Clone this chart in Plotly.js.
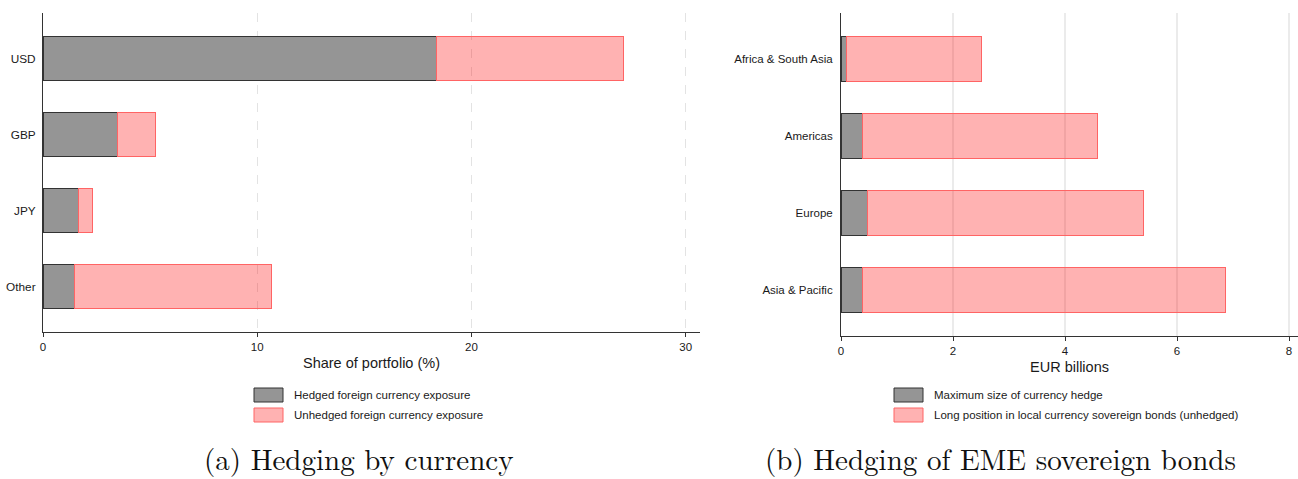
<!DOCTYPE html>
<html>
<head>
<meta charset="utf-8">
<script src="https://cdn.plot.ly/plotly-3.0.1.min.js"></script>
<style>html,body{margin:0;padding:0;background:#fff;}#chart{width:1298px;height:479px;}</style>
</head>
<body>
<div id="chart"></div>
<script>
// Panel (a): hedging by currency (share of portfolio, %)
const currencies = ['USD', 'GBP', 'JPY', 'Other'];
const hedgedCurrency = [18.36, 3.50, 1.65, 1.46];
const unhedgedCurrency = [8.73, 1.73, 0.64, 9.22];

// Panel (b): hedging of EME sovereign bonds (EUR billions)
const regions = ['Africa & South Asia', 'Americas', 'Europe', 'Asia & Pacific'];
const hedgeRegion = [0.105, 0.375, 0.47, 0.39];
const unhedgedRegion = [2.405, 4.205, 4.94, 6.48];

const legendA = ['Hedged foreign currency exposure', 'Unhedged foreign currency exposure'];
const legendB = ['Maximum size of currency hedge', 'Long position in local currency sovereign bonds (unhedged)'];
const xTicksA = [0, 10, 20, 30];
const xTicksB = [0, 2, 4, 6, 8];

const W = 1298, H = 479;
const px = x => x / W;
const py = y => 1 - y / H;

const greyFill = '#959595', greyLine = '#333333';
const pinkFill = 'rgba(255,0,0,0.3)', pinkLine = '#ff6464';
const FONT = 'Liberation Sans, Arial, sans-serif';

const traces = [
  {type: 'bar', orientation: 'h', y: currencies, x: hedgedCurrency, name: legendA[0],
   xaxis: 'x', yaxis: 'y', width: 0.58,
   marker: {color: greyFill, line: {color: greyLine, width: 1}}, hoverinfo: 'x+y'},
  {type: 'bar', orientation: 'h', y: currencies, x: unhedgedCurrency, name: legendA[1],
   xaxis: 'x', yaxis: 'y', width: 0.58,
   marker: {color: pinkFill, line: {color: pinkLine, width: 1}}, hoverinfo: 'x+y'},
  {type: 'bar', orientation: 'h', y: regions, x: hedgeRegion, name: legendB[0],
   xaxis: 'x2', yaxis: 'y2', width: 0.587,
   marker: {color: greyFill, line: {color: greyLine, width: 1}}, hoverinfo: 'x+y'},
  {type: 'bar', orientation: 'h', y: regions, x: unhedgedRegion, name: legendB[1],
   xaxis: 'x2', yaxis: 'y2', width: 0.587,
   marker: {color: pinkFill, line: {color: pinkLine, width: 1}}, hoverinfo: 'x+y'}
];

const axisCommon = {
  showline: true, linecolor: '#333', linewidth: 1, zeroline: false,
  tickfont: {family: FONT, size: 11.5, color: '#1a1a1a'}
};

const layout = {
  width: W, height: H,
  margin: {l: 0, r: 0, t: 0, b: 0},
  paper_bgcolor: '#fff', plot_bgcolor: 'rgba(0,0,0,0)',
  barmode: 'stack', bargap: 0.42,
  showlegend: false,
  font: {family: FONT, color: '#1a1a1a'},
  xaxis: Object.assign({}, axisCommon, {
    domain: [px(43), px(700)], range: [0, 30.67], anchor: 'y',
    tickvals: xTicksA, ticktext: xTicksA.map(String),
    ticks: 'outside', ticklen: 4, tickcolor: '#333',
    showgrid: true, gridcolor: '#e3e3e3', griddash: 'dash', gridwidth: 1,
    title: {text: 'Share of portfolio (%)', font: {family: FONT, size: 14.5, color: '#1a1a1a'}, standoff: 6}
  }),
  yaxis: Object.assign({}, axisCommon, {
    domain: [py(332), py(13)], range: [-0.6, 3.6], anchor: 'x',
    type: 'category', categoryorder: 'array', categoryarray: currencies.slice().reverse(),
    ticks: '', showgrid: false, ticklabelstandoff: 4,
    tickfont: {family: FONT, size: 11.8, color: '#1a1a1a'}
  }),
  xaxis2: Object.assign({}, axisCommon, {
    domain: [px(841), 1], range: [0, 8.16], anchor: 'y2',
    tickvals: xTicksB, ticktext: xTicksB.map(String),
    ticks: 'outside', ticklen: 4, tickcolor: '#333',
    showgrid: true, gridcolor: '#ebebeb', gridwidth: 1.2,
    title: {text: 'EUR billions', font: {family: FONT, size: 14.5, color: '#1a1a1a'}, standoff: 6}
  }),
  yaxis2: Object.assign({}, axisCommon, {
    domain: [py(336), py(13)], range: [-0.6, 3.6], anchor: 'x2',
    type: 'category', categoryorder: 'array', categoryarray: regions.slice().reverse(),
    ticks: '', showgrid: false, ticklabelstandoff: 5,
    tickfont: {family: FONT, size: 11.5, color: '#1a1a1a'}
  }),
  shapes: [],
  annotations: []
};

// manual legends (boxes + labels)
function addLegend(x0, labels) {
  const rows = [[388, 402, greyFill, greyLine], [408, 422, 'rgba(255,0,0,0.3)', pinkLine]];
  rows.forEach((r, i) => {
    layout.shapes.push({type: 'rect', xref: 'paper', yref: 'paper',
      x0: px(x0), x1: px(x0 + 29), y0: py(r[1]), y1: py(r[0]),
      fillcolor: r[2], line: {color: r[3], width: 1}});
    layout.annotations.push({xref: 'paper', yref: 'paper', x: px(x0 + 38), y: py((r[0] + r[1]) / 2),
      xanchor: 'left', yanchor: 'middle', showarrow: false, text: labels[i],
      font: {family: FONT, size: 11.5, color: '#1a1a1a'}});
  });
}
addLegend(254, legendA);
addLegend(894, legendB);

// sub-figure captions
const CAP = 'Latin Modern Roman, CMU Serif, Liberation Serif, DejaVu Serif, serif';
layout.annotations.push({xref: 'paper', yref: 'paper', x: px(359), y: 0, xanchor: 'center', yanchor: 'bottom',
  borderpad: 0, showarrow: false, text: '(a) Hedging by currency', font: {family: CAP, size: 29, color: '#111'}});
layout.annotations.push({xref: 'paper', yref: 'paper', x: px(1000), y: 0, xanchor: 'center', yanchor: 'bottom',
  borderpad: 0, showarrow: false, text: '(b) Hedging of EME sovereign bonds', font: {family: CAP, size: 29, color: '#111'}});

Plotly.newPlot('chart', traces, layout, {displayModeBar: false, staticPlot: true});
</script>
</body>
</html>
